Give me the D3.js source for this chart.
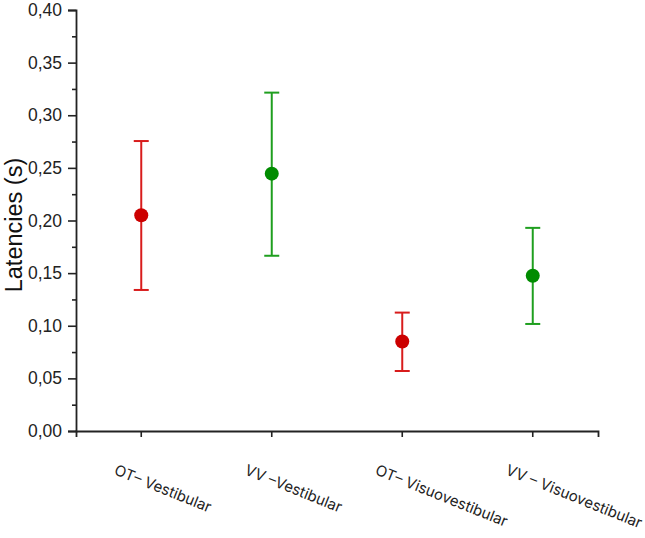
<!DOCTYPE html>
<html>
<head>
<meta charset="utf-8">
<script src="https://cdn.jsdelivr.net/npm/d3@7"></script>
<style>
  body { margin: 0; background: #fff; }
  svg text { font-family: Arial, "Liberation Sans", sans-serif; }
</style>
</head>
<body>
<div id="chart"></div>
<script>
const categories = ["OT– Vestibular", "VV –Vestibular", "OT– Visuovestibular", "VV – Visuovestibular"];
const means      = [0.205, 0.2445, 0.085, 0.1475];
const upper      = [0.2755, 0.3215, 0.1125, 0.193];
const lower      = [0.134, 0.1665, 0.057, 0.1017];
const groups     = ["OT", "VV", "OT", "VV"];
const yTicks     = [0, 0.05, 0.10, 0.15, 0.20, 0.25, 0.30, 0.35, 0.40];

const width  = 645;
const height = 538;
const margin = { left: 76, top: 10, right: 47, bottom: 107 };

const pointColor = { OT: "#cc0000", VV: "#008c00" };
const barColor   = { OT: "#d81c1c", VV: "#1f9f1f" };

const svg = d3.select("#chart").append("svg")
  .attr("width", width)
  .attr("height", height);

const x = d3.scaleBand()
  .domain(categories)
  .range([margin.left, width - margin.right])
  .padding(0);

const y = d3.scaleLinear()
  .domain([0, 0.4])
  .range([height - margin.bottom, margin.top]);

const fmt = d => d3.format(".2f")(d).replace(".", ",");

// y axis with minor ticks
const minorTicks = d3.range(0.025, 0.4, 0.05);
svg.append("g")
  .attr("transform", `translate(${margin.left},0)`)
  .call(d3.axisLeft(y).tickValues(minorTicks).tickSize(4).tickFormat(""))
  .call(g => g.select(".domain").remove())
  .call(g => g.selectAll("line").attr("stroke", "#222").attr("stroke-width", 1.6));

svg.append("g")
  .attr("transform", `translate(${margin.left},0)`)
  .call(d3.axisLeft(y).tickValues(yTicks).tickSize(8).tickPadding(6).tickFormat(fmt))
  .call(g => g.select(".domain").attr("stroke", "#222").attr("stroke-width", 1.8))
  .call(g => g.selectAll("line").attr("stroke", "#222").attr("stroke-width", 1.6))
  .call(g => g.selectAll("text").attr("font-size", 17.5).attr("fill", "#222"));

// x axis
svg.append("g")
  .attr("transform", `translate(0,${height - margin.bottom})`)
  .call(d3.axisBottom(x).tickSize(6).tickFormat(""))
  .call(g => g.select(".domain").attr("stroke", "#222").attr("stroke-width", 1.8))
  .call(g => g.selectAll("line").attr("stroke", "#222").attr("stroke-width", 1.6));

svg.append("g")
  .selectAll("text")
  .data(categories)
  .join("text")
  .attr("transform", d => `translate(${x(d) + x.bandwidth() / 2 - 28},${height - margin.bottom + 43}) rotate(22)`)
  .attr("font-size", 15)
  .attr("fill", "#222")
  .style("font-family", "Inter, 'Open Sans', sans-serif")
  .text(d => d);

// y label
svg.append("text")
  .attr("transform", `translate(22,225) rotate(-90)`)
  .attr("text-anchor", "middle")
  .attr("font-size", 23.5)
  .attr("fill", "#111")
  .text("Latencies (s)");

// error bars
const cx = d => x(d) + x.bandwidth() / 2;
const capW = 7.5;
const bars = svg.append("g").selectAll("g")
  .data(categories)
  .join("g")
  .attr("stroke", (d, i) => barColor[groups[i]])
  .attr("stroke-width", 2);

bars.append("line")
  .attr("x1", cx).attr("x2", cx)
  .attr("y1", (d, i) => y(upper[i]))
  .attr("y2", (d, i) => y(lower[i]));
bars.append("line")
  .attr("x1", d => cx(d) - capW).attr("x2", d => cx(d) + capW)
  .attr("y1", (d, i) => y(upper[i])).attr("y2", (d, i) => y(upper[i]));
bars.append("line")
  .attr("x1", d => cx(d) - capW).attr("x2", d => cx(d) + capW)
  .attr("y1", (d, i) => y(lower[i])).attr("y2", (d, i) => y(lower[i]));

svg.append("g").selectAll("circle")
  .data(categories)
  .join("circle")
  .attr("cx", cx)
  .attr("cy", (d, i) => y(means[i]))
  .attr("r", 7)
  .attr("fill", (d, i) => pointColor[groups[i]]);
</script>
</body>
</html>
